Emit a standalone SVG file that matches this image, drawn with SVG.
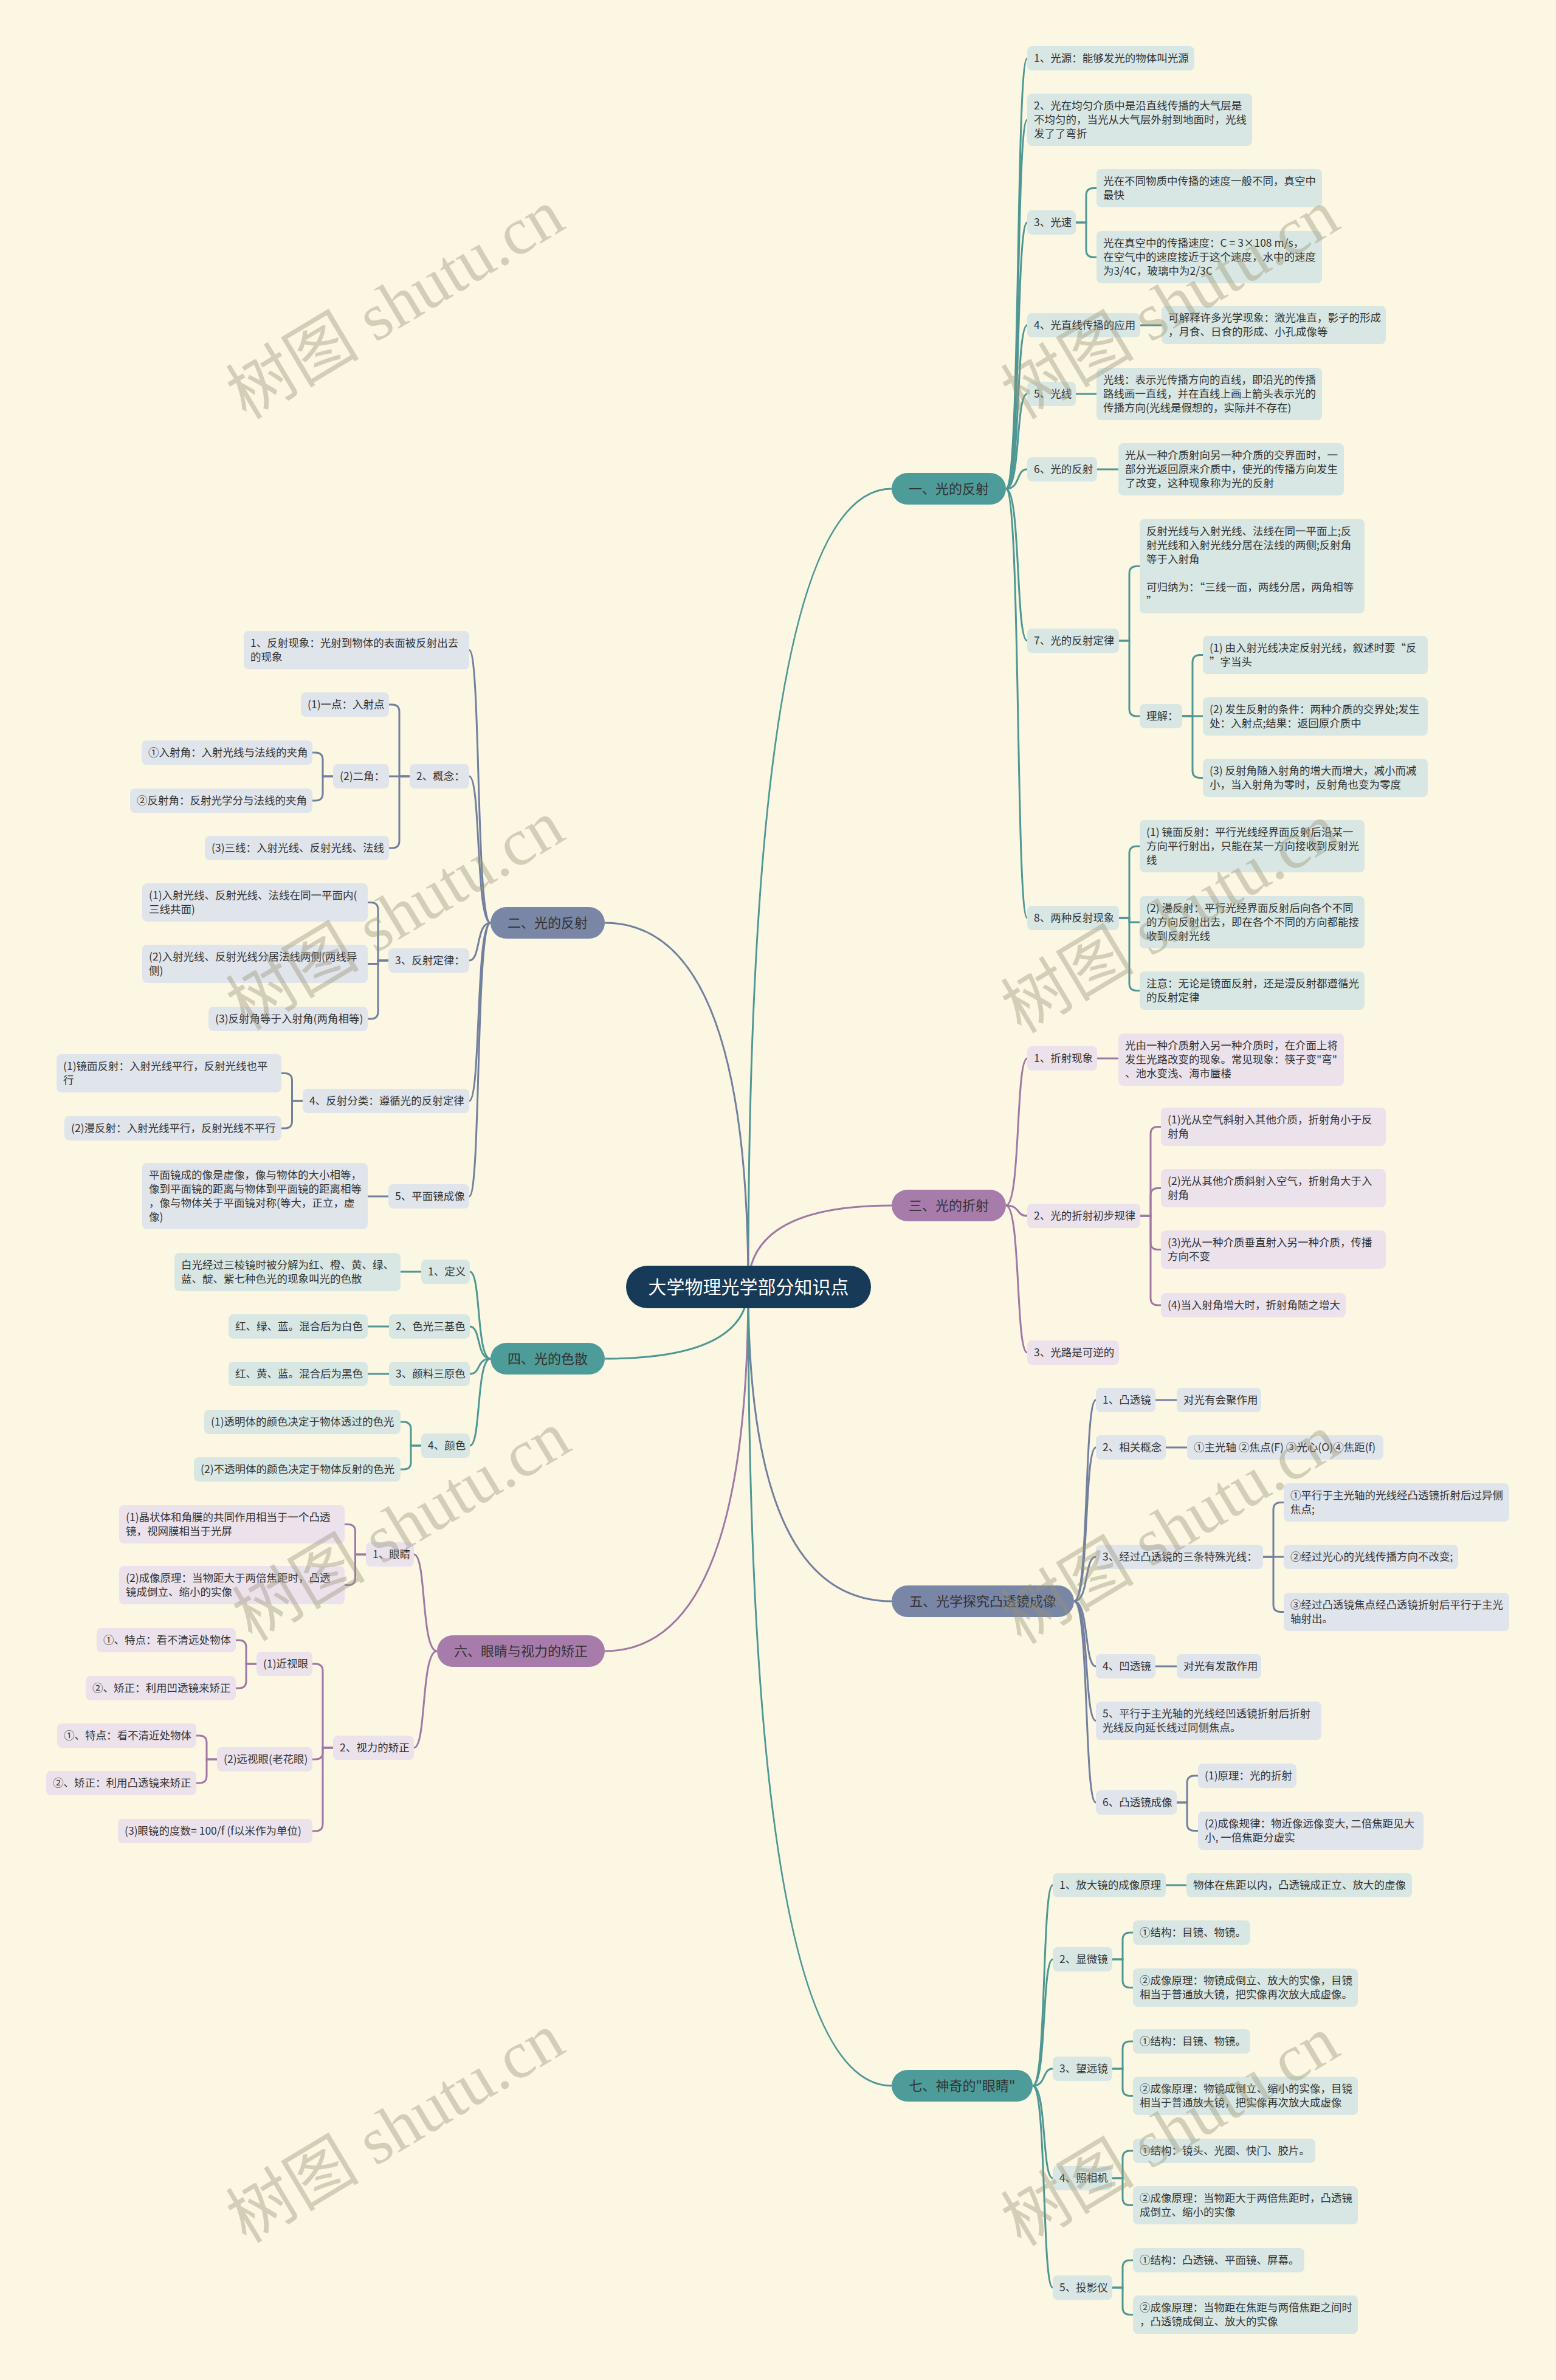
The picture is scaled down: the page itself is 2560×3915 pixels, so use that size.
<svg xmlns="http://www.w3.org/2000/svg" width="2560" height="3915" viewBox="0 0 2560 3915">
<style>
.ct{fill:none;stroke:#4e9794;stroke-width:3}
.cs{fill:none;stroke:#72809f;stroke-width:3}
.cp{fill:none;stroke:#9f78a5;stroke-width:3}
.bt rect{fill:#d8e7e3}
.bs rect{fill:#e0e4eb}
.bp rect{fill:#ebe2ec}
text{font-family:'Noto Sans CJK SC','Noto Sans',sans-serif;fill:#333}
.t{font-size:17.5px}
.b{font-size:22px;text-anchor:middle}
.r{font-size:30px;fill:#fff;text-anchor:middle}
.wm{font-family:'Liberation Serif','Noto Sans CJK SC',serif;font-size:110px;fill:#9a9478;opacity:.4;text-anchor:middle}
</style>
<rect width="2560" height="3915" fill="#fbf7e3"/>
<g id="connectors">
<path class="ct" d="M1231,2117 Q1231,804 1467,804"/>
<path class="cs" d="M1231,2117 Q1231,1518 995,1518"/>
<path class="cp" d="M1231,2117 Q1231,1983 1467,1983"/>
<path class="ct" d="M1231,2117 Q1231,2235 995,2235"/>
<path class="cs" d="M1231,2117 Q1231,2634 1467,2634"/>
<path class="cp" d="M1231,2117 Q1231,2716 995,2716"/>
<path class="ct" d="M1231,2117 Q1231,3431 1467,3431"/>
<!-- branch 1 -->
<path class="ct" d="M1655,804 C1679.5,804 1670.8,96 1690,96"/>
<path class="ct" d="M1655,804 C1679.5,804 1670.8,197 1690,197"/>
<path class="ct" d="M1655,804 C1679.5,804 1670.8,366 1690,366"/>
<path class="ct" d="M1655,804 C1679.5,804 1670.8,535 1690,535"/>
<path class="ct" d="M1655,804 C1679.5,804 1670.8,648 1690,648"/>
<path class="ct" d="M1655,804 C1679.5,804 1670.8,772 1690,772"/>
<path class="ct" d="M1655,804 C1679.5,804 1670.8,1054 1690,1054"/>
<path class="ct" d="M1655,804 C1679.5,804 1670.8,1510 1690,1510"/>
<path class="ct" d="M1770,366 H1787 V321.5 Q1787,309.5 1799,309.5 H1804"/>
<path class="ct" d="M1770,366 H1787 V411 Q1787,423 1799,423 H1804"/>
<path class="ct" d="M1876,535 H1911"/>
<path class="ct" d="M1770,648 H1804"/>
<path class="ct" d="M1805,772 H1840"/>
<path class="ct" d="M1841,1054 H1858 V943.5 Q1858,931.5 1870,931.5 H1875"/>
<path class="ct" d="M1841,1054 H1858 V1166 Q1858,1178 1870,1178 H1875"/>
<path class="ct" d="M1945,1178 H1962 V1089.5 Q1962,1077.5 1974,1077.5 H1979"/>
<path class="ct" d="M1945,1178 H1979"/>
<path class="ct" d="M1945,1178 H1962 V1267.5 Q1962,1279.5 1974,1279.5 H1979"/>
<path class="ct" d="M1841,1510 H1858 V1404 Q1858,1392 1870,1392 H1875"/>
<path class="ct" d="M1841,1510 H1858 V1517 H1875"/>
<path class="ct" d="M1841,1510 H1858 V1617.5 Q1858,1629.5 1870,1629.5 H1875"/>
<!-- branch 3 -->
<path class="cp" d="M1655,1983 C1679.5,1983 1670.8,1741 1690,1741"/>
<path class="cp" d="M1655,1983 C1679.5,1983 1670.8,2000 1690,2000"/>
<path class="cp" d="M1655,1983 C1679.5,1983 1670.8,2225 1690,2225"/>
<path class="cp" d="M1805,1741 H1840"/>
<path class="cp" d="M1876,2000 H1893 V1865.5 Q1893,1853.5 1905,1853.5 H1910"/>
<path class="cp" d="M1876,2000 H1893 V1966.5 Q1893,1954.5 1905,1954.5 H1910"/>
<path class="cp" d="M1876,2000 H1893 V2043.5 Q1893,2055.5 1905,2055.5 H1910"/>
<path class="cp" d="M1876,2000 H1893 V2135 Q1893,2147 1905,2147 H1910"/>
<!-- branch 5 -->
<path class="cs" d="M1767,2634 C1792.2,2634 1783.2,2303 1803,2303"/>
<path class="cs" d="M1767,2634 C1792.2,2634 1783.2,2381 1803,2381"/>
<path class="cs" d="M1767,2634 C1792.2,2634 1783.2,2561 1803,2561"/>
<path class="cs" d="M1767,2634 C1792.2,2634 1783.2,2741 1803,2741"/>
<path class="cs" d="M1767,2634 C1792.2,2634 1783.2,2830.5 1803,2830.5"/>
<path class="cs" d="M1767,2634 C1792.2,2634 1783.2,2965 1803,2965"/>
<path class="cs" d="M1901,2303 H1936"/>
<path class="cs" d="M1918,2381 H1953"/>
<path class="cs" d="M2078,2561 H2095 V2483.5 Q2095,2471.5 2107,2471.5 H2112"/>
<path class="cs" d="M2078,2561 H2112"/>
<path class="cs" d="M2078,2561 H2095 V2639.5 Q2095,2651.5 2107,2651.5 H2112"/>
<path class="cs" d="M1901,2741 H1936"/>
<path class="cs" d="M1936,2965 H1953 V2933 Q1953,2921 1965,2921 H1971"/>
<path class="cs" d="M1936,2965 H1953 V2999.5 Q1953,3011.5 1965,3011.5 H1971"/>
<!-- branch 7 -->
<path class="ct" d="M1699,3431 C1722.1,3431 1713.9,3101 1732,3101"/>
<path class="ct" d="M1699,3431 C1722.1,3431 1713.9,3223 1732,3223"/>
<path class="ct" d="M1699,3431 C1722.1,3431 1713.9,3403 1732,3403"/>
<path class="ct" d="M1699,3431 C1722.1,3431 1713.9,3583 1732,3583"/>
<path class="ct" d="M1699,3431 C1722.1,3431 1713.9,3763 1732,3763"/>
<path class="ct" d="M1918,3101 H1952"/>
<path class="ct" d="M1830,3223 H1847 V3191 Q1847,3179 1859,3179 H1864"/>
<path class="ct" d="M1830,3223 H1847 V3257.5 Q1847,3269.5 1859,3269.5 H1864"/>
<path class="ct" d="M1830,3403 H1847 V3370 Q1847,3358 1859,3358 H1864"/>
<path class="ct" d="M1830,3403 H1847 V3435.5 Q1847,3447.5 1859,3447.5 H1864"/>
<path class="ct" d="M1830,3583 H1847 V3550 Q1847,3538 1859,3538 H1864"/>
<path class="ct" d="M1830,3583 H1847 V3615.5 Q1847,3627.5 1859,3627.5 H1864"/>
<path class="ct" d="M1830,3763 H1847 V3730 Q1847,3718 1859,3718 H1864"/>
<path class="ct" d="M1830,3763 H1847 V3795.5 Q1847,3807.5 1859,3807.5 H1864"/>
<!-- branch 2 -->
<path class="cs" d="M807,1518 C782.5,1518 791.3,1069.5 772,1069.5"/>
<path class="cs" d="M807,1518 C782.5,1518 791.3,1277 772,1277"/>
<path class="cs" d="M807,1518 C782.5,1518 791.3,1580 772,1580"/>
<path class="cs" d="M807,1518 C782.5,1518 791.3,1811 772,1811"/>
<path class="cs" d="M807,1518 C782.5,1518 791.3,1968 772,1968"/>
<path class="cs" d="M674,1277 H657 V1171 Q657,1159 645,1159 H640"/>
<path class="cs" d="M674,1277 H640"/>
<path class="cs" d="M674,1277 H657 V1383 Q657,1395 645,1395 H640"/>
<path class="cs" d="M548,1277 H531 V1250 Q531,1238 519,1238 H514"/>
<path class="cs" d="M548,1277 H531 V1305 Q531,1317 519,1317 H514"/>
<path class="cs" d="M639,1580 H622 V1496.5 Q622,1484.5 610,1484.5 H605"/>
<path class="cs" d="M639,1580 H622 V1585.5 H605"/>
<path class="cs" d="M639,1580 H622 V1664 Q622,1676 610,1676 H605"/>
<path class="cs" d="M498,1811 H480.5 V1777.5 Q480.5,1765.5 468.5,1765.5 H463"/>
<path class="cs" d="M498,1811 H480.5 V1844 Q480.5,1856 468.5,1856 H463"/>
<path class="cs" d="M639,1968 H605"/>
<!-- branch 4 -->
<path class="ct" d="M807,2235 C783.2,2235 791.7,2092 773,2092"/>
<path class="ct" d="M807,2235 C783.2,2235 791.7,2182 773,2182"/>
<path class="ct" d="M807,2235 C783.2,2235 791.7,2260 773,2260"/>
<path class="ct" d="M807,2235 C783.2,2235 791.7,2378 773,2378"/>
<path class="ct" d="M693,2092 H659"/>
<path class="ct" d="M640,2182 H605"/>
<path class="ct" d="M640,2260 H605"/>
<path class="ct" d="M693,2378 H676 V2351 Q676,2339 664,2339 H659"/>
<path class="ct" d="M693,2378 H676 V2405 Q676,2417 664,2417 H659"/>
<!-- branch 6 -->
<path class="cp" d="M719,2716 C692.4,2716 701.9,2557 681,2557"/>
<path class="cp" d="M719,2716 C692.4,2716 701.9,2875 681,2875"/>
<path class="cp" d="M602,2557 H584.5 V2519.5 Q584.5,2507.5 572.5,2507.5 H567"/>
<path class="cp" d="M602,2557 H584.5 V2595.5 Q584.5,2607.5 572.5,2607.5 H567"/>
<path class="cp" d="M548,2875 H531 V2749 Q531,2737 519,2737 H514"/>
<path class="cp" d="M548,2875 H531 V2882 Q531,2894 519,2894 H514"/>
<path class="cp" d="M548,2875 H531 V3000 Q531,3012 519,3012 H514"/>
<path class="cp" d="M422,2737 H405 V2710 Q405,2698 393,2698 H388"/>
<path class="cp" d="M422,2737 H405 V2765 Q405,2777 393,2777 H388"/>
<path class="cp" d="M357,2894 H340 V2867 Q340,2855 328,2855 H323"/>
<path class="cp" d="M357,2894 H340 V2921 Q340,2933 328,2933 H323"/>
</g>

<g id="root"><rect x="1030" y="2082" width="403" height="70" rx="35" fill="#173a58"/><text class="r" x="1231.5" y="2128">大学物理光学部分知识点</text></g>

<g id="b1"><rect x="1467" y="778" width="188" height="52" rx="26" fill="#4d9c99"/><text class="b" x="1561" y="812">一、光的反射</text></g>
<g id="b2"><rect x="807" y="1492" width="188" height="52" rx="26" fill="#7986a6"/><text class="b" x="901" y="1526">二、光的反射</text></g>
<g id="b3"><rect x="1467" y="1957" width="188" height="52" rx="26" fill="#a77cab"/><text class="b" x="1561" y="1991">三、光的折射</text></g>
<g id="b4"><rect x="807" y="2209" width="188" height="52" rx="26" fill="#4d9c99"/><text class="b" x="901" y="2243">四、光的色散</text></g>
<g id="b5"><rect x="1467" y="2608" width="300" height="52" rx="26" fill="#7986a6"/><text class="b" x="1617" y="2642">五、光学探究凸透镜成像</text></g>
<g id="b6"><rect x="719" y="2690" width="276" height="52" rx="26" fill="#a77cab"/><text class="b" x="857" y="2724">六、眼睛与视力的矫正</text></g>
<g id="b7"><rect x="1467" y="3405" width="232" height="52" rx="26" fill="#4d9c99"/><text class="b" x="1583" y="3439">七、神奇的"眼睛"</text></g>

<!-- branch 1 nodes -->
<g id="n1_1" class="bt"><rect x="1690" y="76" width="275" height="40" rx="8"/><text class="t" x="1701" y="102">1、光源：能够发光的物体叫光源</text></g>
<g id="n1_2" class="bt"><rect x="1690" y="154" width="370" height="86" rx="8"/><text class="t"><tspan x="1701" y="180">2、光在均匀介质中是沿直线传播的大气层是</tspan><tspan x="1701" y="203">不均匀的，当光从大气层外射到地面时，光线</tspan><tspan x="1701" y="226">发了了弯折</tspan></text></g>
<g id="n1_3" class="bt"><rect x="1690" y="346" width="80" height="40" rx="8"/><text class="t" x="1701" y="372">3、光速</text></g>
<g id="n1_3a" class="bt"><rect x="1804" y="278" width="371" height="63" rx="8"/><text class="t"><tspan x="1815" y="304">光在不同物质中传播的速度一般不同，真空中</tspan><tspan x="1815" y="327">最快</tspan></text></g>
<g id="n1_3b" class="bt"><rect x="1804" y="380" width="371" height="86" rx="8"/><text class="t"><tspan x="1815" y="406">光在真空中的传播速度：C = 3×108 m/s，</tspan><tspan x="1815" y="429">在空气中的速度接近于这个速度，水中的速度</tspan><tspan x="1815" y="452">为3/4C，玻璃中为2/3C</tspan></text></g>
<g id="n1_4" class="bt"><rect x="1690" y="515" width="186" height="40" rx="8"/><text class="t" x="1701" y="541">4、光直线传播的应用</text></g>
<g id="n1_4a" class="bt"><rect x="1911" y="503" width="369" height="63" rx="8"/><text class="t"><tspan x="1922" y="529">可解释许多光学现象：激光准直，影子的形成</tspan><tspan x="1922" y="552">，月食、日食的形成、小孔成像等</tspan></text></g>
<g id="n1_5" class="bt"><rect x="1690" y="628" width="80" height="40" rx="8"/><text class="t" x="1701" y="654">5、光线</text></g>
<g id="n1_5a" class="bt"><rect x="1804" y="605" width="371" height="86" rx="8"/><text class="t"><tspan x="1815" y="631">光线：表示光传播方向的直线，即沿光的传播</tspan><tspan x="1815" y="654">路线画一直线，并在直线上画上箭头表示光的</tspan><tspan x="1815" y="677">传播方向(光线是假想的，实际并不存在)</tspan></text></g>
<g id="n1_6" class="bt"><rect x="1690" y="752" width="115" height="40" rx="8"/><text class="t" x="1701" y="778">6、光的反射</text></g>
<g id="n1_6a" class="bt"><rect x="1840" y="729" width="371" height="86" rx="8"/><text class="t"><tspan x="1851" y="755">光从一种介质射向另一种介质的交界面时，一</tspan><tspan x="1851" y="778">部分光返回原来介质中，使光的传播方向发生</tspan><tspan x="1851" y="801">了改变，这种现象称为光的反射</tspan></text></g>
<g id="n1_7" class="bt"><rect x="1690" y="1034" width="151" height="40" rx="8"/><text class="t" x="1701" y="1060">7、光的反射定律</text></g>
<g id="n1_7a" class="bt"><rect x="1875" y="854" width="370" height="155" rx="8"/><text class="t"><tspan x="1886" y="880">反射光线与入射光线、法线在同一平面上;反</tspan><tspan x="1886" y="903">射光线和入射光线分居在法线的两侧;反射角</tspan><tspan x="1886" y="926">等于入射角</tspan><tspan x="1886" y="972">可归纳为：“三线一面，两线分居，两角相等</tspan><tspan x="1886" y="995">”</tspan></text></g>
<g id="n1_7b" class="bt"><rect x="1875" y="1158" width="70" height="40" rx="8"/><text class="t" x="1886" y="1184">理解：</text></g>
<g id="n1_7b1" class="bt"><rect x="1979" y="1046" width="370" height="63" rx="8"/><text class="t"><tspan x="1990" y="1072">(1) 由入射光线决定反射光线，叙述时要“反</tspan><tspan x="1990" y="1095">”字当头</tspan></text></g>
<g id="n1_7b2" class="bt"><rect x="1979" y="1147" width="370" height="63" rx="8"/><text class="t"><tspan x="1990" y="1173">(2) 发生反射的条件：两种介质的交界处;发生</tspan><tspan x="1990" y="1196">处：入射点;结果：返回原介质中</tspan></text></g>
<g id="n1_7b3" class="bt"><rect x="1979" y="1248" width="370" height="63" rx="8"/><text class="t"><tspan x="1990" y="1274">(3) 反射角随入射角的增大而增大，减小而减</tspan><tspan x="1990" y="1297">小，当入射角为零时，反射角也变为零度</tspan></text></g>
<g id="n1_8" class="bt"><rect x="1690" y="1490" width="151" height="40" rx="8"/><text class="t" x="1701" y="1516">8、两种反射现象</text></g>
<g id="n1_8a" class="bt"><rect x="1875" y="1349" width="370" height="86" rx="8"/><text class="t"><tspan x="1886" y="1375">(1) 镜面反射：平行光线经界面反射后沿某一</tspan><tspan x="1886" y="1398">方向平行射出，只能在某一方向接收到反射光</tspan><tspan x="1886" y="1421">线</tspan></text></g>
<g id="n1_8b" class="bt"><rect x="1875" y="1474" width="370" height="86" rx="8"/><text class="t"><tspan x="1886" y="1500">(2) 漫反射：平行光经界面反射后向各个不同</tspan><tspan x="1886" y="1523">的方向反射出去，即在各个不同的方向都能接</tspan><tspan x="1886" y="1546">收到反射光线</tspan></text></g>
<g id="n1_8c" class="bt"><rect x="1875" y="1598" width="370" height="63" rx="8"/><text class="t"><tspan x="1886" y="1624">注意：无论是镜面反射，还是漫反射都遵循光</tspan><tspan x="1886" y="1647">的反射定律</tspan></text></g>

<!-- branch 3 nodes -->
<g id="n3_1" class="bp"><rect x="1690" y="1721" width="115" height="40" rx="8"/><text class="t" x="1701" y="1747">1、折射现象</text></g>
<g id="n3_1a" class="bp"><rect x="1840" y="1700" width="371" height="86" rx="8"/><text class="t"><tspan x="1851" y="1726">光由一种介质射入另一种介质时，在介面上将</tspan><tspan x="1851" y="1749">发生光路改变的现象。常见现象：筷子变"弯"</tspan><tspan x="1851" y="1772">、池水变浅、海市蜃楼</tspan></text></g>
<g id="n3_2" class="bp"><rect x="1690" y="1980" width="186" height="40" rx="8"/><text class="t" x="1701" y="2006">2、光的折射初步规律</text></g>
<g id="n3_2a" class="bp"><rect x="1910" y="1822" width="370" height="63" rx="8"/><text class="t"><tspan x="1921" y="1848">(1)光从空气斜射入其他介质，折射角小于反</tspan><tspan x="1921" y="1871">射角</tspan></text></g>
<g id="n3_2b" class="bp"><rect x="1910" y="1923" width="370" height="63" rx="8"/><text class="t"><tspan x="1921" y="1949">(2)光从其他介质斜射入空气，折射角大于入</tspan><tspan x="1921" y="1972">射角</tspan></text></g>
<g id="n3_2c" class="bp"><rect x="1910" y="2024" width="370" height="63" rx="8"/><text class="t"><tspan x="1921" y="2050">(3)光从一种介质垂直射入另一种介质，传播</tspan><tspan x="1921" y="2073">方向不变</tspan></text></g>
<g id="n3_2d" class="bp"><rect x="1910" y="2127" width="304" height="40" rx="8"/><text class="t" x="1921" y="2153">(4)当入射角增大时，折射角随之增大</text></g>
<g id="n3_3" class="bp"><rect x="1690" y="2205" width="151" height="40" rx="8"/><text class="t" x="1701" y="2231">3、光路是可逆的</text></g>

<!-- branch 5 nodes -->
<g id="n5_1" class="bs"><rect x="1803" y="2283" width="98" height="40" rx="8"/><text class="t" x="1814" y="2309">1、凸透镜</text></g>
<g id="n5_1a" class="bs"><rect x="1936" y="2283" width="139" height="40" rx="8"/><text class="t" x="1947" y="2309">对光有会聚作用</text></g>
<g id="n5_2" class="bs"><rect x="1803" y="2361" width="115" height="40" rx="8"/><text class="t" x="1814" y="2387">2、相关概念</text></g>
<g id="n5_2a" class="bs"><rect x="1953" y="2361" width="323" height="40" rx="8"/><text class="t" x="1964" y="2387">①主光轴 ②焦点(F) ③光心(O)④焦距(f)</text></g>
<g id="n5_3" class="bs"><rect x="1803" y="2541" width="275" height="40" rx="8"/><text class="t" x="1814" y="2567">3、经过凸透镜的三条特殊光线：</text></g>
<g id="n5_3a" class="bs"><rect x="2112" y="2440" width="371" height="63" rx="8"/><text class="t"><tspan x="2123" y="2466">①平行于主光轴的光线经凸透镜折射后过异侧</tspan><tspan x="2123" y="2489">焦点;</tspan></text></g>
<g id="n5_3b" class="bs"><rect x="2112" y="2541" width="287" height="40" rx="8"/><text class="t" x="2123" y="2567">②经过光心的光线传播方向不改变;</text></g>
<g id="n5_3c" class="bs"><rect x="2112" y="2620" width="371" height="63" rx="8"/><text class="t"><tspan x="2123" y="2646">③经过凸透镜焦点经凸透镜折射后平行于主光</tspan><tspan x="2123" y="2669">轴射出。</tspan></text></g>
<g id="n5_4" class="bs"><rect x="1803" y="2721" width="98" height="40" rx="8"/><text class="t" x="1814" y="2747">4、凹透镜</text></g>
<g id="n5_4a" class="bs"><rect x="1936" y="2721" width="139" height="40" rx="8"/><text class="t" x="1947" y="2747">对光有发散作用</text></g>
<g id="n5_5" class="bs"><rect x="1803" y="2799" width="371" height="63" rx="8"/><text class="t"><tspan x="1814" y="2825">5、平行于主光轴的光线经凹透镜折射后折射</tspan><tspan x="1814" y="2848">光线反向延长线过同侧焦点。</tspan></text></g>
<g id="n5_6" class="bs"><rect x="1803" y="2945" width="133" height="40" rx="8"/><text class="t" x="1814" y="2971">6、凸透镜成像</text></g>
<g id="n5_6a" class="bs"><rect x="1971" y="2901" width="162" height="40" rx="8"/><text class="t" x="1982" y="2927">(1)原理：光的折射</text></g>
<g id="n5_6b" class="bs"><rect x="1971" y="2980" width="371" height="63" rx="8"/><text class="t"><tspan x="1982" y="3006">(2)成像规律：物近像远像变大, 二倍焦距见大</tspan><tspan x="1982" y="3029">小, 一倍焦距分虚实</tspan></text></g>

<!-- branch 7 nodes -->
<g id="n7_1" class="bt"><rect x="1732" y="3081" width="186" height="40" rx="8"/><text class="t" x="1743" y="3107">1、放大镜的成像原理</text></g>
<g id="n7_1a" class="bt"><rect x="1952" y="3081" width="371" height="40" rx="8"/><text class="t" x="1963" y="3107">物体在焦距以内，凸透镜成正立、放大的虚像</text></g>
<g id="n7_2" class="bt"><rect x="1732" y="3203" width="98" height="40" rx="8"/><text class="t" x="1743" y="3229">2、显微镜</text></g>
<g id="n7_2a" class="bt"><rect x="1864" y="3159" width="193" height="40" rx="8"/><text class="t" x="1875" y="3185">①结构：目镜、物镜。</text></g>
<g id="n7_2b" class="bt"><rect x="1864" y="3238" width="370" height="63" rx="8"/><text class="t"><tspan x="1875" y="3264">②成像原理：物镜成倒立、放大的实像，目镜</tspan><tspan x="1875" y="3287">相当于普通放大镜，把实像再次放大成虚像。</tspan></text></g>
<g id="n7_3" class="bt"><rect x="1732" y="3383" width="98" height="40" rx="8"/><text class="t" x="1743" y="3409">3、望远镜</text></g>
<g id="n7_3a" class="bt"><rect x="1864" y="3338" width="193" height="40" rx="8"/><text class="t" x="1875" y="3364">①结构：目镜、物镜。</text></g>
<g id="n7_3b" class="bt"><rect x="1864" y="3416" width="370" height="63" rx="8"/><text class="t"><tspan x="1875" y="3442">②成像原理：物镜成倒立、缩小的实像，目镜</tspan><tspan x="1875" y="3465">相当于普通放大镜，把实像再次放大成虚像</tspan></text></g>
<g id="n7_4" class="bt"><rect x="1732" y="3563" width="98" height="40" rx="8"/><text class="t" x="1743" y="3589">4、照相机</text></g>
<g id="n7_4a" class="bt"><rect x="1864" y="3518" width="300" height="40" rx="8"/><text class="t" x="1875" y="3544">①结构：镜头、光圈、快门、胶片。</text></g>
<g id="n7_4b" class="bt"><rect x="1864" y="3596" width="370" height="63" rx="8"/><text class="t"><tspan x="1875" y="3622">②成像原理：当物距大于两倍焦距时，凸透镜</tspan><tspan x="1875" y="3645">成倒立、缩小的实像</tspan></text></g>
<g id="n7_5" class="bt"><rect x="1732" y="3743" width="98" height="40" rx="8"/><text class="t" x="1743" y="3769">5、投影仪</text></g>
<g id="n7_5a" class="bt"><rect x="1864" y="3698" width="282" height="40" rx="8"/><text class="t" x="1875" y="3724">①结构：凸透镜、平面镜、屏幕。</text></g>
<g id="n7_5b" class="bt"><rect x="1864" y="3776" width="370" height="63" rx="8"/><text class="t"><tspan x="1875" y="3802">②成像原理：当物距在焦距与两倍焦距之间时</tspan><tspan x="1875" y="3825">，凸透镜成倒立、放大的实像</tspan></text></g>

<!-- branch 2 nodes -->
<g id="n2_1" class="bs"><rect x="401" y="1038" width="371" height="63" rx="8"/><text class="t"><tspan x="412" y="1064">1、反射现象：光射到物体的表面被反射出去</tspan><tspan x="412" y="1087">的现象</tspan></text></g>
<g id="n2_2" class="bs"><rect x="674" y="1257" width="98" height="40" rx="8"/><text class="t" x="685" y="1283">2、概念：</text></g>
<g id="n2_2a" class="bs"><rect x="495" y="1139" width="145" height="40" rx="8"/><text class="t" x="506" y="1165">(1)一点：入射点</text></g>
<g id="n2_2b" class="bs"><rect x="548" y="1257" width="92" height="40" rx="8"/><text class="t" x="559" y="1283">(2)二角：</text></g>
<g id="n2_2b1" class="bs"><rect x="233" y="1218" width="281" height="40" rx="8"/><text class="t" x="244" y="1244">①入射角：入射光线与法线的夹角</text></g>
<g id="n2_2b2" class="bs"><rect x="214" y="1297" width="300" height="40" rx="8"/><text class="t" x="225" y="1323">②反射角：反射光学分与法线的夹角</text></g>
<g id="n2_2c" class="bs"><rect x="337" y="1375" width="303" height="40" rx="8"/><text class="t" x="348" y="1401">(3)三线：入射光线、反射光线、法线</text></g>
<g id="n2_3" class="bs"><rect x="639" y="1560" width="133" height="40" rx="8"/><text class="t" x="650" y="1586">3、反射定律：</text></g>
<g id="n2_3a" class="bs"><rect x="234" y="1453" width="371" height="63" rx="8"/><text class="t"><tspan x="245" y="1479">(1)入射光线、反射光线、法线在同一平面内(</tspan><tspan x="245" y="1502">三线共面)</tspan></text></g>
<g id="n2_3b" class="bs"><rect x="234" y="1554" width="371" height="63" rx="8"/><text class="t"><tspan x="245" y="1580">(2)入射光线、反射光线分居法线两侧(两线异</tspan><tspan x="245" y="1603">侧)</tspan></text></g>
<g id="n2_3c" class="bs"><rect x="343" y="1656" width="262" height="40" rx="8"/><text class="t" x="354" y="1682">(3)反射角等于入射角(两角相等)</text></g>
<g id="n2_4" class="bs"><rect x="498" y="1791" width="274" height="40" rx="8"/><text class="t" x="509" y="1817">4、反射分类：遵循光的反射定律</text></g>
<g id="n2_4a" class="bs"><rect x="93" y="1734" width="370" height="63" rx="8"/><text class="t"><tspan x="104" y="1760">(1)镜面反射：入射光线平行，反射光线也平</tspan><tspan x="104" y="1783">行</tspan></text></g>
<g id="n2_4b" class="bs"><rect x="106" y="1836" width="357" height="40" rx="8"/><text class="t" x="117" y="1862">(2)漫反射：入射光线平行，反射光线不平行</text></g>
<g id="n2_5" class="bs"><rect x="639" y="1948" width="133" height="40" rx="8"/><text class="t" x="650" y="1974">5、平面镜成像</text></g>
<g id="n2_5a" class="bs"><rect x="234" y="1913" width="371" height="109" rx="8"/><text class="t"><tspan x="245" y="1939">平面镜成的像是虚像，像与物体的大小相等，</tspan><tspan x="245" y="1962">像到平面镜的距离与物体到平面镜的距离相等</tspan><tspan x="245" y="1985">，像与物体关于平面镜对称(等大，正立，虚</tspan><tspan x="245" y="2008">像)</tspan></text></g>

<!-- branch 4 nodes -->
<g id="n4_1" class="bt"><rect x="693" y="2072" width="80" height="40" rx="8"/><text class="t" x="704" y="2098">1、定义</text></g>
<g id="n4_1a" class="bt"><rect x="287" y="2061" width="372" height="63" rx="8"/><text class="t"><tspan x="298" y="2087">白光经过三棱镜时被分解为红、橙、黄、绿、</tspan><tspan x="298" y="2110">蓝、靛、紫七种色光的现象叫光的色散</tspan></text></g>
<g id="n4_2" class="bt"><rect x="640" y="2162" width="133" height="40" rx="8"/><text class="t" x="651" y="2188">2、色光三基色</text></g>
<g id="n4_2a" class="bt"><rect x="376" y="2162" width="229" height="40" rx="8"/><text class="t" x="387" y="2188">红、绿、蓝。混合后为白色</text></g>
<g id="n4_3" class="bt"><rect x="640" y="2240" width="133" height="40" rx="8"/><text class="t" x="651" y="2266">3、颜料三原色</text></g>
<g id="n4_3a" class="bt"><rect x="376" y="2240" width="229" height="40" rx="8"/><text class="t" x="387" y="2266">红、黄、蓝。混合后为黑色</text></g>
<g id="n4_4" class="bt"><rect x="693" y="2358" width="80" height="40" rx="8"/><text class="t" x="704" y="2384">4、颜色</text></g>
<g id="n4_4a" class="bt"><rect x="336" y="2319" width="323" height="40" rx="8"/><text class="t" x="347" y="2345">(1)透明体的颜色决定于物体透过的色光</text></g>
<g id="n4_4b" class="bt"><rect x="319" y="2397" width="340" height="40" rx="8"/><text class="t" x="330" y="2423">(2)不透明体的颜色决定于物体反射的色光</text></g>

<!-- branch 6 nodes -->
<g id="n6_1" class="bp"><rect x="602" y="2537" width="79" height="40" rx="8"/><text class="t" x="613" y="2563">1、眼睛</text></g>
<g id="n6_1a" class="bp"><rect x="196" y="2476" width="371" height="63" rx="8"/><text class="t"><tspan x="207" y="2502">(1)晶状体和角膜的共同作用相当于一个凸透</tspan><tspan x="207" y="2525">镜，视网膜相当于光屏</tspan></text></g>
<g id="n6_1b" class="bp"><rect x="196" y="2576" width="371" height="63" rx="8"/><text class="t"><tspan x="207" y="2602">(2)成像原理：当物距大于两倍焦距时，凸透</tspan><tspan x="207" y="2625">镜成倒立、缩小的实像</tspan></text></g>
<g id="n6_2" class="bp"><rect x="548" y="2855" width="133" height="40" rx="8"/><text class="t" x="559" y="2881">2、视力的矫正</text></g>
<g id="n6_2a" class="bp"><rect x="422" y="2717" width="92" height="40" rx="8"/><text class="t" x="433" y="2743">(1)近视眼</text></g>
<g id="n6_2a1" class="bp"><rect x="159" y="2678" width="229" height="40" rx="8"/><text class="t" x="170" y="2704">①、特点：看不清远处物体</text></g>
<g id="n6_2a2" class="bp"><rect x="141" y="2757" width="247" height="40" rx="8"/><text class="t" x="152" y="2783">②、矫正：利用凹透镜来矫正</text></g>
<g id="n6_2b" class="bp"><rect x="357" y="2874" width="157" height="40" rx="8"/><text class="t" x="368" y="2900">(2)远视眼(老花眼)</text></g>
<g id="n6_2b1" class="bp"><rect x="94" y="2835" width="229" height="40" rx="8"/><text class="t" x="105" y="2861">①、特点：看不清近处物体</text></g>
<g id="n6_2b2" class="bp"><rect x="76" y="2913" width="247" height="40" rx="8"/><text class="t" x="87" y="2939">②、矫正：利用凸透镜来矫正</text></g>
<g id="n6_2c" class="bp"><rect x="194" y="2992" width="320" height="40" rx="8"/><text class="t" x="205" y="3018">(3)眼镜的度数= 100/f (f以米作为单位)</text></g>

<g id="watermarks">
<text class="wm" transform="rotate(-31 650 500)" x="650" y="538">树图 shutu.cn</text>
<text class="wm" transform="rotate(-31 1925 500)" x="1925" y="538">树图 shutu.cn</text>
<text class="wm" transform="rotate(-31 650 1505)" x="650" y="1543">树图 shutu.cn</text>
<text class="wm" transform="rotate(-31 1925 1510)" x="1925" y="1548">树图 shutu.cn</text>
<text class="wm" transform="rotate(-31 660 2510)" x="660" y="2548">树图 shutu.cn</text>
<text class="wm" transform="rotate(-31 1925 2515)" x="1925" y="2553">树图 shutu.cn</text>
<text class="wm" transform="rotate(-31 650 3500)" x="650" y="3538">树图 shutu.cn</text>
<text class="wm" transform="rotate(-31 1925 3505)" x="1925" y="3543">树图 shutu.cn</text>
</g>
</svg>
